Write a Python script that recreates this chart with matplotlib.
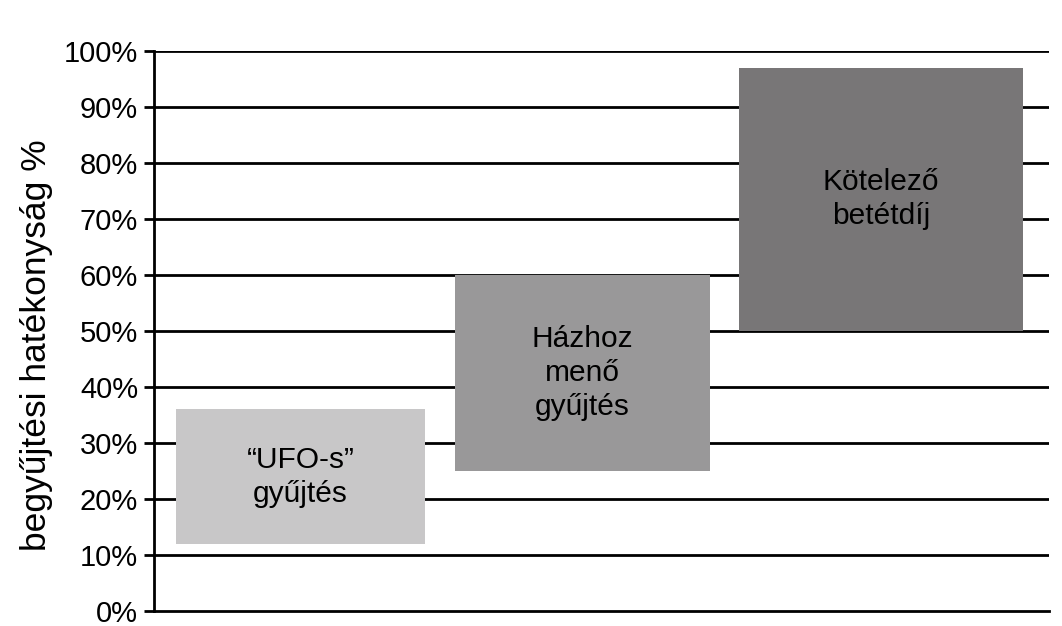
import matplotlib
matplotlib.use("Agg")
import matplotlib.pyplot as plt

# Data
categories = ["\u201cUFO-s\u201d\ngyűjtés", "Házhoz\nmenő\ngyűjtés", "Kötelező\nbetétdíj"]
low_values = [12, 25, 50]
high_values = [36, 60, 97]
bar_colors = ["#c8c7c8", "#999899", "#787677"]
y_ticks = [0, 10, 20, 30, 40, 50, 60, 70, 80, 90, 100]
y_tick_labels = [f"{v}%" for v in y_ticks]
y_label = "begyűjtési hatékonyság %"

# Layout (horizontal placement in axis units)
bar_centers = [146.5, 428.5, 727.0]
bar_widths = [249, 255, 284]
x_max = 895

plt.rcParams['font.family'] = ['Liberation Sans', 'DejaVu Sans']

fig = plt.figure(figsize=(10.62, 6.26), dpi=100)
ax = fig.add_axes([154/1062, 15/626, (1049-154)/1062, 560/626])

ax.set_xlim(0, x_max)
ax.set_ylim(0, 100)

# gridlines
for v in y_ticks[1:]:
    ax.axhline(v, color="black", linewidth=2.0, zorder=1)

heights = [h - l for h, l in zip(high_values, low_values)]
ax.bar(bar_centers, heights, width=bar_widths, bottom=low_values,
       color=bar_colors, zorder=2, linewidth=0)

for cx, lo, hi, txt in zip(bar_centers, low_values, high_values, categories):
    ax.text(cx, (lo + hi) / 2, txt, ha="center", va="center",
            fontsize=21.5, color="black", linespacing=1.28, zorder=3)

ax.set_yticks(y_ticks)
ax.set_yticklabels(y_tick_labels, fontsize=21)
ax.set_xticks([])
ax.tick_params(axis="y", length=7.5, width=2.0, pad=4, direction="out")
ax.set_ylabel(y_label, fontsize=25.5)
ax.yaxis.set_label_coords(-0.113, 0.475)

for s in ["top", "right"]:
    ax.spines[s].set_visible(False)
for s in ["left", "bottom"]:
    ax.spines[s].set_linewidth(2.0)
    ax.spines[s].set_zorder(4)

fig.savefig("out.png", dpi=100, facecolor="white")
